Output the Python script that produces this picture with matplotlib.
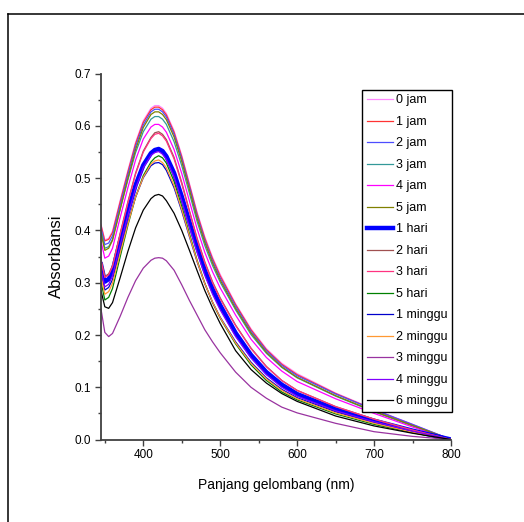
#!/usr/bin/env python3
import matplotlib
matplotlib.use('Agg')
import matplotlib.pyplot as plt
from matplotlib.lines import Line2D
from matplotlib.ticker import MultipleLocator

NARROW = ['Liberation Sans Narrow', 'Liberation Sans', 'DejaVu Sans']
ARIAL  = ['Liberation Sans', 'DejaVu Sans']

# wavelength grid (nm) the values were read at
WAVELENGTH = [345, 350, 355, 360, 370, 380, 390, 400, 410, 415, 420, 425, 430, 440, 450,
              460, 470, 480, 490, 500, 520, 540, 560, 580, 600, 650, 700, 750, 800]

LABELS = ["0 jam", "1 jam", "2 jam", "3 jam", "4 jam", "5 jam", "1 hari",
          "2 hari", "3 hari", "5 hari", "1 minggu", "2 minggu", "3 minggu",
          "4 minggu", "6 minggu"]

ABS_0_JAM = [.412, .382, .385, .399, .458, .515, .569, .610, .634, .639, .639, .634, .624, .591, .544,
             .490, .435, .388, .349, .316, .260, .212, .174, .146, .126, .089, .058, .029, .000]
ABS_1_JAM = [.410, .380, .383, .396, .455, .512, .566, .607, .631, .636, .636, .631, .621, .588, .541,
             .487, .432, .385, .346, .313, .258, .210, .172, .144, .124, .088, .057, .028, .000]
ABS_2_JAM = [.405, .373, .376, .390, .449, .507, .561, .602, .627, .632, .632, .627, .617, .584, .537,
             .483, .428, .381, .342, .309, .255, .207, .170, .142, .122, .087, .057, .029, .000]
ABS_3_JAM = [.400, .366, .369, .383, .441, .497, .549, .589, .613, .618, .618, .613, .603, .570, .524,
             .471, .417, .371, .333, .301, .248, .201, .165, .138, .118, .083, .053, .026, .000]
ABS_4_JAM = [.380, .347, .351, .366, .425, .482, .535, .575, .598, .603, .603, .598, .588, .555, .509,
             .456, .403, .358, .321, .290, .238, .192, .157, .131, .111, .078, .050, .024, .000]
ABS_5_JAM = [.395, .362, .366, .381, .441, .500, .555, .597, .622, .627, .627, .622, .612, .579, .532,
             .478, .423, .377, .338, .305, .251, .204, .167, .139, .119, .084, .054, .027, .000]
ABS_1_HARI = [.335, .302, .307, .322, .380, .436, .487, .525, .548, .554, .556, .552, .542, .510, .465,
              .416, .368, .324, .288, .257, .204, .162, .129, .105, .087, .058, .036, .017, .000]
ABS_2_HARI = [.345, .312, .317, .333, .395, .455, .510, .552, .578, .587, .589, .584, .574, .540, .492,
              .438, .385, .340, .302, .271, .219, .175, .140, .113, .094, .063, .039, .018, .000]
ABS_3_HARI = [.343, .310, .315, .331, .393, .453, .508, .550, .576, .584, .586, .581, .571, .537, .489,
              .436, .383, .338, .300, .269, .218, .174, .139, .113, .094, .063, .039, .018, .000]
ABS_5_HARI = [.302, .267, .272, .289, .350, .410, .464, .505, .531, .539, .543, .539, .529, .494, .446,
              .394, .343, .299, .262, .232, .183, .143, .113, .091, .076, .049, .029, .013, .000]
ABS_1_MINGGU = [.320, .286, .291, .306, .362, .416, .464, .501, .524, .529, .530, .526, .515, .482, .437,
                .388, .340, .298, .263, .234, .187, .148, .118, .096, .080, .053, .032, .015, .000]
ABS_2_MINGGU = [.312, .278, .283, .299, .357, .413, .464, .502, .527, .533, .535, .530, .520, .486, .440,
                .390, .341, .298, .263, .233, .185, .146, .116, .094, .078, .051, .031, .014, .000]
ABS_3_MINGGU = [.250, .205, .197, .203, .236, .272, .304, .328, .343, .347, .348, .347, .342, .324, .296,
                .266, .238, .210, .187, .166, .129, .100, .079, .062, .051, .031, .015, .006, .000]
ABS_4_MINGGU = [.325, .292, .297, .313, .372, .429, .481, .520, .544, .549, .551, .546, .536, .503, .457,
                .407, .358, .314, .278, .248, .197, .156, .124, .100, .083, .055, .034, .016, .000]
ABS_6_MINGGU = [.285, .254, .251, .262, .310, .360, .405, .439, .461, .467, .469, .466, .457, .433, .400,
                .362, .323, .285, .252, .222, .170, .134, .108, .088, .073, .045, .026, .012, .000]

SERIES = [ABS_0_JAM, ABS_1_JAM, ABS_2_JAM, ABS_3_JAM, ABS_4_JAM, ABS_5_JAM, ABS_1_HARI,
          ABS_2_HARI, ABS_3_HARI, ABS_5_HARI, ABS_1_MINGGU, ABS_2_MINGGU, ABS_3_MINGGU,
          ABS_4_MINGGU, ABS_6_MINGGU]

COLORS = ["#FF88FF", "#FF3333", "#4D4DFF", "#339999", "#FF00FF", "#808000", "#0000FF",
          "#A05050", "#FF3380", "#008000", "#0000CC", "#FF9933", "#9933A0", "#8000FF",
          "#000000"]
WIDTHS = [0.9] * 6 + [3.2] + [0.9] * 8

SPINE = "#404040"


def main():
    fig = plt.figure(figsize=(5.24, 5.22), dpi=100)
    ax = fig.add_axes([0.1927, 0.158, 0.668, 0.7008])

    for vals, lab, col, lw in zip(SERIES, LABELS, COLORS, WIDTHS):
        ax.plot(WAVELENGTH, vals, color=col, lw=lw, label=lab,
                solid_joinstyle="round")

    ax.set_xlim(345, 800)
    ax.set_ylim(0, 0.7)
    ax.xaxis.set_major_locator(MultipleLocator(100))
    ax.xaxis.set_minor_locator(MultipleLocator(50))
    ax.yaxis.set_major_locator(MultipleLocator(0.1))
    ax.yaxis.set_minor_locator(MultipleLocator(0.05))
    ax.yaxis.set_major_formatter(lambda v, p: f"{v:.1f}")

    for s in ["top", "right"]:
        ax.spines[s].set_visible(False)
    for s in ["left", "bottom"]:
        ax.spines[s].set_color(SPINE)
        ax.spines[s].set_linewidth(1.3)

    ax.tick_params(which="major", direction="out", length=4, width=1,
                   color=SPINE, pad=3, labelsize=8.5)
    ax.tick_params(which="minor", direction="out", length=2.5, width=1,
                   color=SPINE)
    for t in ax.get_xticklabels() + ax.get_yticklabels():
        t.set_family(NARROW)

    ax.set_xlabel("Panjang gelombang (nm)", fontsize=10, family=NARROW)
    ax.set_ylabel("Absorbansi", fontsize=12, family=ARIAL)
    ax.xaxis.set_label_coords(0.5, -0.124)
    ax.yaxis.set_label_coords(-0.126, 0.5)
    ax.xaxis.label.set_va("center")
    ax.yaxis.label.set_va("center")

    leg = ax.legend(loc="upper right", bbox_to_anchor=(452 / 524, (522 - 90) / 522),
                    bbox_transform=fig.transFigure, fancybox=False, framealpha=1,
                    edgecolor="black", prop={"family": NARROW, "size": 9},
                    handlelength=2.1, handletextpad=0.25, labelspacing=0.76,
                    borderpad=0.35, borderaxespad=0)
    leg.get_frame().set_linewidth(1.0)

    # outer frame, cut by the right and bottom edges of the picture
    top = (522 - 13.5) / 522
    left = 7.5 / 524
    fig.add_artist(Line2D([left, left], [0, top], transform=fig.transFigure,
                          color="black", lw=1.1))
    fig.add_artist(Line2D([left, 1], [top, top], transform=fig.transFigure,
                          color="black", lw=1.1))

    fig.savefig("out.png", dpi=100)
    plt.close(fig)


if __name__ == "__main__":
    main()
